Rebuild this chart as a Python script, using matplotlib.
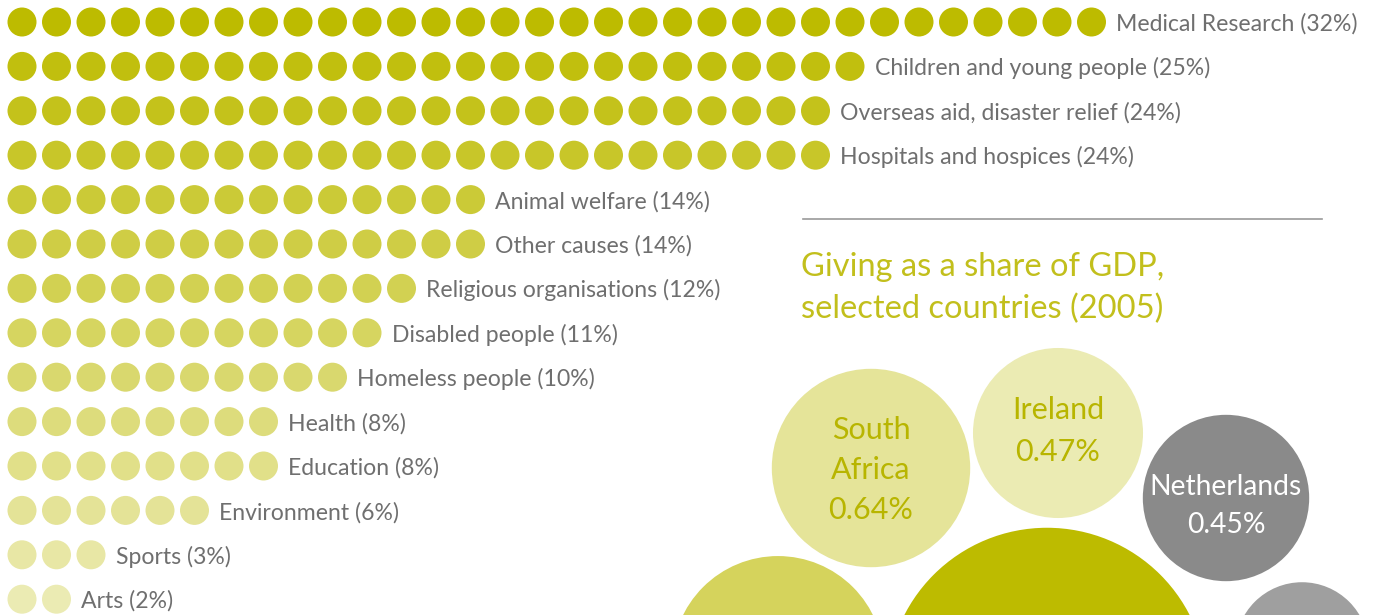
import numpy as np
import matplotlib
matplotlib.use("Agg")
import matplotlib.pyplot as plt
from matplotlib.patches import Circle

# Causes supported (% of donors)
causes = [
    "Medical Research", "Children and young people", "Overseas aid, disaster relief",
    "Hospitals and hospices", "Animal welfare", "Other causes", "Religious organisations",
    "Disabled people", "Homeless people", "Health", "Education", "Environment",
    "Sports", "Arts",
]
cause_pct = [32, 25, 24, 24, 14, 14, 12, 11, 10, 8, 8, 6, 3, 2]

# Giving as a share of GDP (2005)
countries = ["South Africa", "Ireland", "Netherlands", "US", "UK", "Singapore"]
gdp_share = [0.64, 0.47, 0.45, 1.67, 0.73, 0.29]
show_label = [True, True, True, False, False, False]

OLIVE = np.array([189, 187, 0]) / 255
GREY_TEXT = "#6f6f6f"


def tint(alpha, base=OLIVE):
    return tuple(1 - alpha * (1 - base))


fig = plt.figure(figsize=(13.82, 6.15), dpi=100)
ax = fig.add_axes([0, 0, 1, 1])
ax.set_xlim(0, 1382)
ax.set_ylim(615, 0)
ax.set_aspect("equal")
ax.axis("off")

# --- dot rows ---
x0, dx, r_dot = 22, 34.5, 14.5
y0, dy = 22, 44.4
n_rows = len(causes)
for i, (name, pct) in enumerate(zip(causes, cause_pct)):
    y = y0 + i * dy
    col = tint(1 - 0.7 * i / (n_rows - 1))
    for k in range(pct):
        ax.add_patch(Circle((x0 + k * dx, y), r_dot, color=col, lw=0))
    ax.text(x0 + (pct - 1) * dx + 25, y + 2, f"{name} ({pct}%)", fontsize=16.6,
            color=GREY_TEXT, va="center", ha="left", family="Lato")

# --- right panel header ---
ax.plot([803, 1322], [219, 219], color="#9a9a9a", lw=1.2)
ax.text(801, 288, "Giving as a share of GDP,\nselected countries (2005)", fontsize=23.5,
        color="#c2bf1c", va="center", ha="left", family="Lato", linespacing=1.45)

# --- bubbles (area proportional to share) ---
k_r = 124
centers = [(871, 468), (1058, 433), (1226, 498), (1047, 688), (778, 662), (1302, 649)]
colors = [tint(0.40), tint(0.30), "#8a8a8a", tint(1.0), tint(0.64), "#9f9f9f"]
text_cols = ["#b8b500", "#b8b500", "white", "white", "white", "white"]
text_off = [2, -2, 8, 0, 0, 0]
text_step = [40, 42, 38, 40, 40, 40]
text_fs = [22, 22, 20.3, 22, 22, 22]
for i, ((cx, cy), v, name) in enumerate(zip(centers, gdp_share, countries)):
    ax.add_patch(Circle((cx, cy), k_r * np.sqrt(v), color=colors[i], lw=0))
    if not show_label[i]:
        continue
    lines = name.split(" ") + [f"{v:.2f}%"]
    n = len(lines)
    for j, w in enumerate(lines):
        yy = cy + text_off[i] + (j - (n - 1) / 2) * text_step[i]
        ax.text(cx, yy, w, fontsize=text_fs[i], color=text_cols[i], ha="center",
                va="center", family="Lato",
                fontweight="normal" if j < n - 1 else "book")

fig.savefig("out.png", dpi=100)
